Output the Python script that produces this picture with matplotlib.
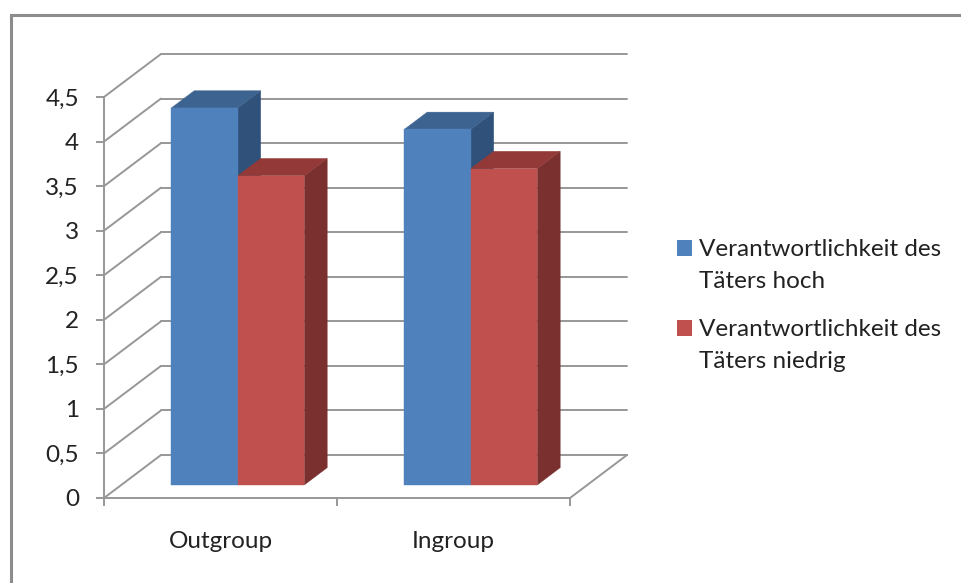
"""
3D-artiges Saeulendiagramm: Verantwortlichkeit des Taeters nach Gruppe.
"""

import matplotlib
matplotlib.use("Agg")
import matplotlib.pyplot as plt
from matplotlib.lines import Line2D
from matplotlib.patches import Patch, Polygon

categories = ["Outgroup", "Ingroup"]
hoch = [4.23, 3.99]
niedrig = [3.47, 3.55]
y_ticks = [0, 0.5, 1, 1.5, 2, 2.5, 3, 3.5, 4, 4.5]
y_labels = ["0", "0,5", "1", "1,5", "2", "2,5", "3", "3,5", "4", "4,5"]
legend_labels = ["Verantwortlichkeit des\nTäters hoch", "Verantwortlichkeit des\nTäters niedrig"]

W, H = 961, 583
GRID = "#979797"
TEXT = "#222222"
BLUE = ("#4F81BD", "#3D6390", "#30517A")
RED = ("#C0504D", "#933A38", "#7A302E")

# Tiefenversatz der Rueckwand in Datenkoordinaten
DX = 57 / 233
DY = 43 / 89.1
BAR_W = 66.5 / 233
D_FRONT = 0.305
D_BACK = 0.705

plt.rcParams["font.family"] = ["Lato", "DejaVu Sans"]

fig = plt.figure(figsize=(W / 100, H / 100), dpi=100)
ax = fig.add_axes([104 / W, 1 - 498 / H, 466 / W, 401 / H])
ax.set_xlim(0, 2)
ax.set_ylim(0, 4.5)
ax.patch.set_visible(False)
for s in ["top", "right"]:
    ax.spines[s].set_visible(False)
for s in ["left", "bottom"]:
    ax.spines[s].set_color(GRID)
    ax.spines[s].set_linewidth(1.4)


def depth_line(x0, y0, x1, y1, d0=0.0, d1=0.0):
    ax.add_line(Line2D([x0 + d0 * DX, x1 + d1 * DX], [y0 + d0 * DY, y1 + d1 * DY],
                       color=GRID, lw=1.4, clip_on=False, zorder=1, solid_capstyle="round"))


# Gitterlinien auf Seiten- und Rueckwand
for t in y_ticks:
    depth_line(0, t, 0, t, 0, 1)
    depth_line(0, t, 2, t, 1, 1)
depth_line(2, 0, 2, 0, 0, 1)


def bar3d(x_left, value, colors, z):
    x_right = x_left + BAR_W
    x0, x1 = x_left + D_FRONT * DX, x_right + D_FRONT * DX
    y0, y1 = D_FRONT * DY, value + D_FRONT * DY
    bx, by = (D_BACK - D_FRONT) * DX, (D_BACK - D_FRONT) * DY
    faces = [
        ([(x1, y0), (x1 + bx, y0 + by), (x1 + bx, y1 + by), (x1, y1)], colors[2]),
        ([(x0, y1), (x1, y1), (x1 + bx, y1 + by), (x0 + bx, y1 + by)], colors[1]),
        ([(x0, y0), (x1, y0), (x1, y1), (x0, y1)], colors[0]),
    ]
    for pts, c in faces:
        ax.add_patch(Polygon(pts, closed=True, fc=c, ec=c, lw=0.3, clip_on=False, zorder=z))


for i in range(len(categories)):
    center = i + 0.5
    bar3d(center - BAR_W, hoch[i], BLUE, 3)
    bar3d(center, niedrig[i], RED, 4)

ax.set_yticks(y_ticks)
ax.set_yticklabels(y_labels, fontsize=17.5, color=TEXT)
ax.set_xticks([0, 1, 2])
ax.set_xticklabels([])
ax.set_xticks([0.5, 1.5], minor=True)
ax.set_xticklabels(categories, minor=True, fontsize=17.5, color=TEXT)
ax.tick_params(axis="y", length=6, width=1.4, color=GRID, pad=12)
ax.tick_params(axis="x", which="major", length=6, width=1.4, color=GRID)
ax.tick_params(axis="x", which="minor", length=0, pad=24)

# Aeusserer Rahmen, nur oben und links sichtbar
fig.add_artist(Line2D([10.5 / W, 10.5 / W, 1], [0, 1 - 15 / H, 1 - 15 / H],
                      color="#8C8C8C", lw=2.2, solid_joinstyle="miter"))

handles = [Patch(fc=BLUE[0], ec="none"), Patch(fc=RED[0], ec="none")]
leg = fig.legend(handles, legend_labels, loc="upper left", bbox_to_anchor=(672 / W, 1 - 234 / H),
                 frameon=False, fontsize=17.5, labelcolor=TEXT, handlelength=0.62, handleheight=0.62,
                 handletextpad=0.29, labelspacing=1.1, borderpad=0.2, borderaxespad=0)
for txt in leg.get_texts():
    txt.set_linespacing(1.65)
# Farbfelder auf Hoehe der ersten Textzeile
for h in leg.legend_handles:
    h.set_y(h.get_y() + 12.5)

fig.savefig("out.png", dpi=100)
plt.close(fig)
